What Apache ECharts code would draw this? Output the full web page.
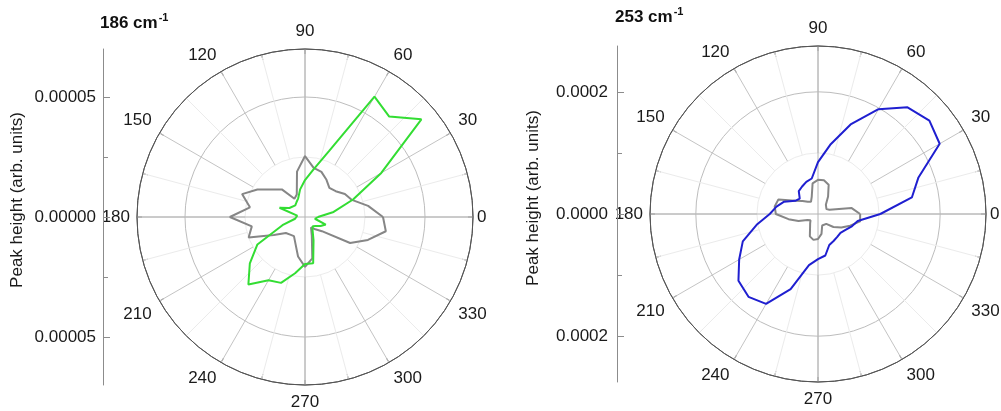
<!DOCTYPE html>
<html><head><meta charset="utf-8">
<script src="https://cdn.jsdelivr.net/npm/echarts@6/dist/echarts.min.js"></script>
<style>html,body{margin:0;padding:0;background:#fff}#c{width:1001px;height:411px}</style>
</head><body><div id="c"></div>
<script>
// polarisation angles (degrees)
const angles = [0,10,20,30,40,50,60,70,80,90,100,110,120,130,140,150,160,170,180,190,200,210,220,230,240,250,260,270,280,290,300,310,320,330,340,350];
// 186 cm-1 peak height (arb. units)
const green186 = [0.54e-5,1.21e-5,2.13e-5,3.67e-5,6.33e-5,5.46e-5,5.79e-5,2.92e-5,2.0e-5,1.54e-5,1.17e-5,0.83e-5,0.71e-5,0.63e-5,0.63e-5,0.75e-5,1.13e-5,0.33e-5,0.33e-5,0.42e-5,1.0e-5,2.29e-5,3.0e-5,3.67e-5,3.04e-5,2.92e-5,2.38e-5,1.96e-5,1.96e-5,1.04e-5,0.63e-5,0.5e-5,0.58e-5,0.75e-5,0.92e-5,0.42e-5];
const gray186 = [3.25e-5,2.67e-5,2.08e-5,1.92e-5,1.67e-5,1.58e-5,1.79e-5,2.0e-5,2.08e-5,2.54e-5,1.92e-5,1.0e-5,0.88e-5,1.5e-5,1.79e-5,2.29e-5,2.79e-5,2.33e-5,3.13e-5,2.25e-5,2.5e-5,1.5e-5,1.04e-5,0.96e-5,0.92e-5,1.17e-5,1.67e-5,2.08e-5,1.75e-5,0.83e-5,0.5e-5,0.67e-5,0.92e-5,2.17e-5,2.79e-5,3.42e-5];
// 253 cm-1 peak height (arb. units)
const blue253 = [1.02e-4,1.56e-4,1.75e-4,2.30e-4,2.38e-4,2.28e-4,1.98e-4,1.56e-4,1.15e-4,0.85e-4,0.59e-4,0.56e-4,0.52e-4,0.49e-4,0.39e-4,0.43e-4,0.59e-4,0.69e-4,0.79e-4,1.02e-4,1.31e-4,1.49e-4,1.70e-4,1.77e-4,1.70e-4,1.31e-4,0.85e-4,0.74e-4,0.69e-4,0.54e-4,0.51e-4,0.49e-4,0.48e-4,0.52e-4,0.59e-4,0.66e-4];
const gray253 = [0.69e-4,0.56e-4,0.20e-4,0.16e-4,0.16e-4,0.20e-4,0.33e-4,0.51e-4,0.56e-4,0.56e-4,0.51e-4,0.30e-4,0.23e-4,0.26e-4,0.33e-4,0.43e-4,0.69e-4,0.72e-4,0.69e-4,0.49e-4,0.34e-4,0.20e-4,0.16e-4,0.20e-4,0.26e-4,0.39e-4,0.43e-4,0.41e-4,0.33e-4,0.20e-4,0.20e-4,0.21e-4,0.33e-4,0.44e-4,0.56e-4,0.70e-4];
// axis ticks
const leftMajorTicks = [-5e-5, 0, 5e-5];
const leftMinorTicks = [-2.5e-5, 2.5e-5];
const rightMajorTicks = [-2e-4, 0, 2e-4];
const rightMinorTicks = [-1e-4, 1e-4];
const titles = ['186 cm', '253 cm'];
const yName = 'Peak height (arb. units)';

const FONT = 'Liberation Sans, Arial, sans-serif';
const R = 168;
const panels = [
  {cx: 305, cy: 217, max: 7e-5, step: 2.5e-5, axisX: 103, major: leftMajorTicks, minor: leftMinorTicks, digits: 5, yMargin: 7, nameX: 17, nameY: 200, titleX: 95, titleY: 7},
  {cx: 818, cy: 214, max: 2.75e-4, step: 1e-4, axisX: 617, major: rightMajorTicks, minor: rightMinorTicks, digits: 4, yMargin: 9, nameX: 533, nameY: 198, titleX: 610, titleY: 1}
];

function pts(vals) {
  const d = vals.map((v, i) => [v, angles[i]]);
  d.push([vals[0], 360]);
  return d;
}
const labelStyle = {color: '#1a1a1a', fontSize: 17, fontFamily: FONT};

const polar = [], angleAxis = [], radiusAxis = [], grid = [], xAxis = [], yAxis = [], graphic = [], title = [];
panels.forEach((p, k) => {
  const base = polar.length;
  // main polar (labels, outer circle, rings)
  polar.push({center: [p.cx, p.cy], radius: R});
  angleAxis.push({polarIndex: base, type: 'value', min: 0, max: 360, interval: 30, startAngle: 0, clockwise: false,
    axisLine: {show: true, lineStyle: {color: '#555', width: 1}},
    axisTick: {show: true, inside: true, length: 5, lineStyle: {color: '#555'}},
    minorTick: {show: true, splitNumber: 2, length: 5, lineStyle: {color: '#555'}},
    axisLabel: Object.assign({show: true, margin: 9, formatter: v => ((v % 180) === 0 ? '' : String(v))}, labelStyle),
    splitLine: {show: false}});
  radiusAxis.push({polarIndex: base, type: 'value', min: 0, max: p.max, interval: p.step,
    axisLine: {show: false}, axisTick: {show: false}, axisLabel: {show: false},
    splitLine: {show: true, lineStyle: {color: ['#ffffff', '#ececec', '#bdbdbd', '#555555'], width: 1}}});
  // annular polar for spokes (+ the 180 label)
  polar.push({center: [p.cx, p.cy], radius: [R * p.step / p.max, R]});
  angleAxis.push({polarIndex: base + 1, type: 'value', min: 0, max: 360, interval: 30, startAngle: 0, clockwise: false,
    axisLine: {show: false}, axisTick: {show: false},
    axisLabel: Object.assign({show: true, margin: 7, formatter: v => (v === 180 ? '180' : '')}, labelStyle),
    minorTick: {show: false, splitNumber: 2},
    splitLine: {show: true, lineStyle: {color: '#c4c4c4', width: 1}},
    minorSplitLine: {show: true, lineStyle: {color: '#ebebeb', width: 1}}});
  radiusAxis.push({polarIndex: base + 1, show: false, type: 'value', min: 0, max: 1});
  // full cross through centre (+ the 0 label)
  polar.push({center: [p.cx, p.cy], radius: R});
  angleAxis.push({polarIndex: base + 2, type: 'value', min: 0, max: 360, interval: 90, startAngle: 0, clockwise: false,
    axisLine: {show: false}, axisTick: {show: false},
    axisLabel: Object.assign({show: true, margin: 4, formatter: v => (v === 0 ? '0' : '')}, labelStyle),
    splitLine: {show: true, lineStyle: {color: '#b4b4b4', width: 1}}});
  radiusAxis.push({polarIndex: base + 2, show: false, type: 'value', min: 0, max: 1});

  // vertical value axis on the left
  const g0 = grid.length;
  [0, 1].forEach(j => {
    grid.push({left: p.axisX, top: p.cy - R, width: 10, height: 2 * R, containLabel: false});
    xAxis.push({gridIndex: g0 + j, type: 'value', show: false});
  });
  yAxis.push({gridIndex: g0, type: 'value', min: -p.max, max: p.max, position: 'left',
    axisLine: {show: true, lineStyle: {color: '#8c8c8c', width: 1}},
    axisTick: {show: true, inside: true, length: 7, customValues: p.major, lineStyle: {color: '#8c8c8c'}},
    axisLabel: Object.assign({show: true, customValues: p.major, margin: p.yMargin,
      formatter: v => Math.abs(v).toFixed(p.digits)}, labelStyle),
    splitLine: {show: false}});
  yAxis.push({gridIndex: g0 + 1, type: 'value', min: -p.max, max: p.max, position: 'left',
    axisLine: {show: false},
    axisTick: {show: true, inside: true, length: 5, customValues: p.minor, lineStyle: {color: '#8c8c8c'}},
    axisLabel: {show: false}, splitLine: {show: false}});

  graphic.push({type: 'text', x: p.nameX, y: p.nameY, rotation: Math.PI / 2,
    style: {text: yName, fontSize: 17, fontFamily: FONT, fill: '#1a1a1a', align: 'center', verticalAlign: 'middle'}});
  title.push({left: p.titleX, top: p.titleY, text: '{a|' + titles[k] + '}{b|-1}',
    textStyle: {rich: {a: {fontSize: 17, fontWeight: 'bold', fontFamily: FONT, color: '#111', lineHeight: 22},
      b: {fontSize: 11, fontWeight: 'bold', fontFamily: FONT, color: '#111', verticalAlign: 'top', lineHeight: 22, padding: [0, 0, 10, 1]}}}});
});

const series = [
  {type: 'line', coordinateSystem: 'polar', polarIndex: 0, data: pts(gray186), symbol: 'none', lineStyle: {color: '#868686', width: 2}, z: 3},
  {type: 'line', coordinateSystem: 'polar', polarIndex: 0, data: pts(green186), symbol: 'none', lineStyle: {color: '#33dd33', width: 2}, z: 4},
  {type: 'line', coordinateSystem: 'polar', polarIndex: 3, data: pts(gray253), symbol: 'none', lineStyle: {color: '#868686', width: 2}, z: 3},
  {type: 'line', coordinateSystem: 'polar', polarIndex: 3, data: pts(blue253), symbol: 'none', lineStyle: {color: '#1f1fd0', width: 2}, z: 4}
];

const chart = echarts.init(document.getElementById('c'), null, {renderer: 'canvas'});
chart.setOption({animation: false, backgroundColor: '#fff', title, polar, angleAxis, radiusAxis, grid, xAxis, yAxis, graphic, series});
</script></body></html>
